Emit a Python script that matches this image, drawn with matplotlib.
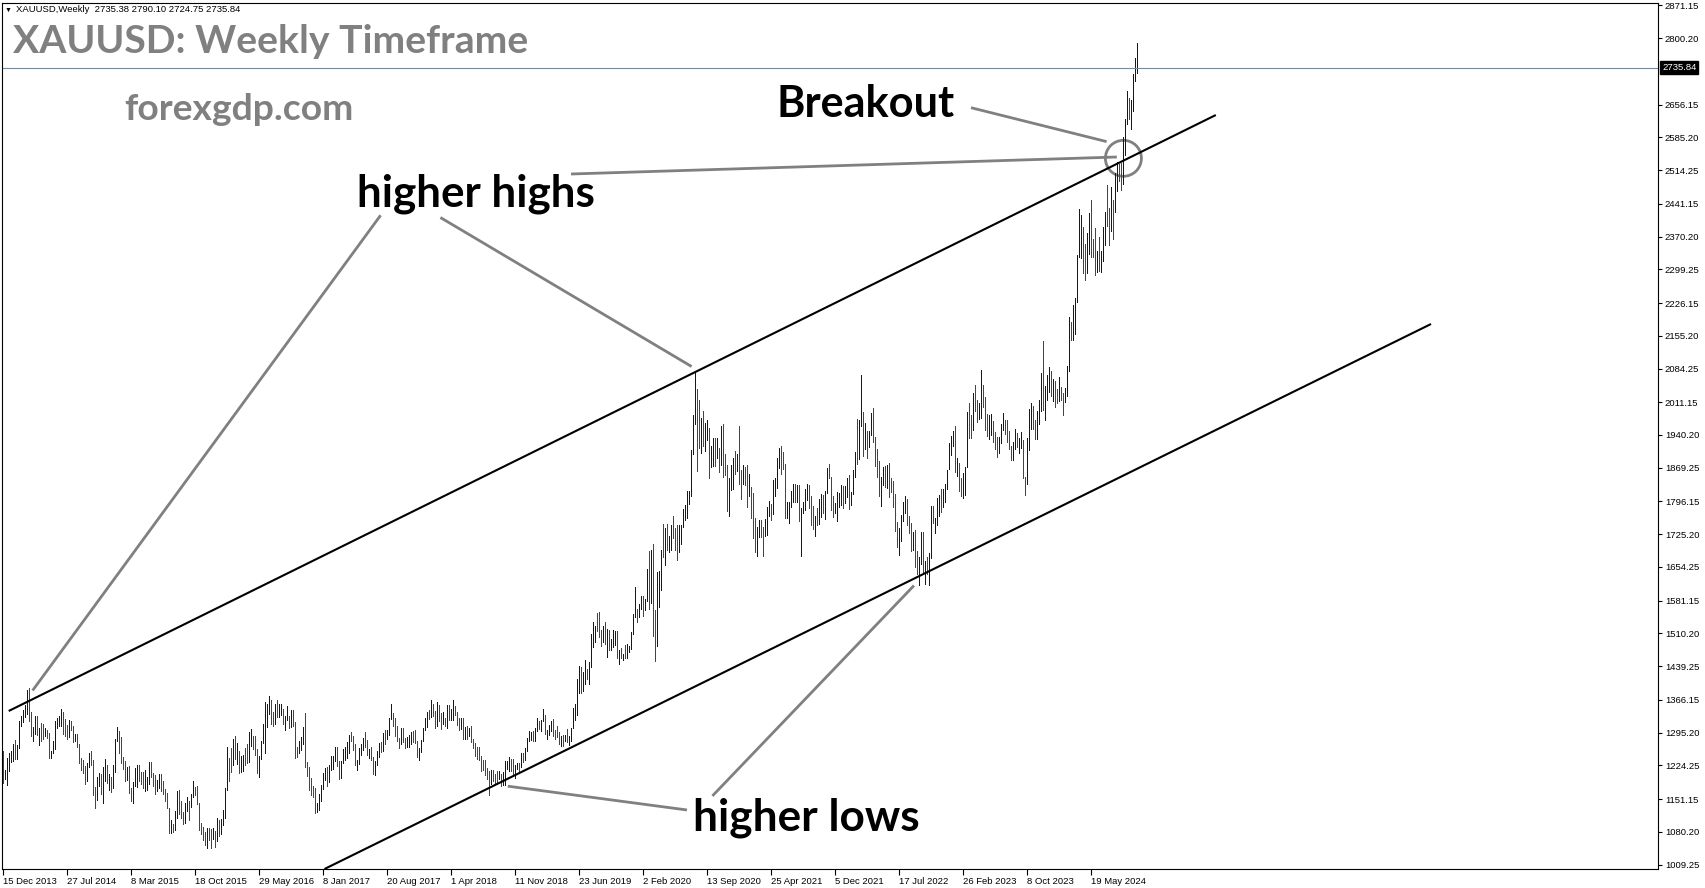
import matplotlib
matplotlib.use("Agg")
import numpy as np
import matplotlib.pyplot as plt
import matplotlib.transforms as mtransforms
from matplotlib.patches import Ellipse

plt.rcParams['font.family'] = ['Liberation Sans', 'DejaVu Sans']

# XAUUSD weekly bars (high, low, close), one per week from 15 Dec 2013
first_open = 1238
bars_2013 = [(1255, 1185, 1203), (1215, 1194, 1212), (1240, 1182, 1237)]
bars_2014 = [
    (1251, 1211, 1247), (1256, 1232, 1254), (1270, 1234, 1264), (1280, 1238, 1240), (1269, 1238, 1262),
    (1320, 1262, 1318), (1332, 1309, 1324), (1345, 1318, 1326), (1355, 1330, 1339), (1388, 1336, 1379),
    (1392, 1321, 1335), (1340, 1287, 1294), (1307, 1277, 1303), (1331, 1293, 1318), (1331, 1290, 1294),
    (1305, 1268, 1303), (1316, 1277, 1302), (1315, 1281, 1292), (1306, 1287, 1293), (1300, 1283, 1292),
    (1295, 1240, 1245), (1256, 1240, 1253), (1278, 1251, 1274), (1321, 1260, 1315), (1326, 1305, 1316),
    (1332, 1310, 1320), (1346, 1310, 1337), (1340, 1292, 1310), (1325, 1288, 1304), (1312, 1282, 1294),
    (1322, 1286, 1310), (1320, 1301, 1306), (1310, 1274, 1280), (1293, 1276, 1287), (1293, 1263, 1268),
    (1270, 1229, 1231), (1240, 1214, 1216), (1236, 1207, 1214), (1222, 1183, 1192), (1229, 1190, 1222),
    (1250, 1220, 1238), (1255, 1226, 1231), (1235, 1161, 1171), (1177, 1132, 1169), (1198, 1150, 1189),
    (1208, 1180, 1196), (1205, 1163, 1175), (1220, 1142, 1192), (1238, 1190, 1222), (1225, 1186, 1195),
    (1205, 1170, 1195), (1200, 1167, 1189)]
bars_2015 = [
    (1224, 1176, 1216), (1282, 1210, 1277), (1307, 1276, 1294), (1298, 1250, 1283), (1285, 1230, 1234),
    (1242, 1216, 1228), (1233, 1191, 1203), (1220, 1193, 1213), (1223, 1164, 1167), (1176, 1147, 1152),
    (1188, 1142, 1184), (1219, 1180, 1199), (1224, 1178, 1218), (1224, 1191, 1206), (1210, 1183, 1203),
    (1210, 1175, 1178), (1214, 1168, 1179), (1200, 1170, 1189), (1232, 1183, 1225), (1232, 1200, 1204),
    (1207, 1180, 1190), (1203, 1162, 1168), (1193, 1169, 1180), (1205, 1175, 1201), (1205, 1168, 1173),
    (1190, 1162, 1168), (1172, 1146, 1159), (1165, 1131, 1133), (1132, 1077, 1085), (1105, 1077, 1095),
    (1097, 1080, 1094), (1126, 1085, 1113), (1168, 1111, 1160), (1170, 1118, 1133), (1147, 1110, 1121),
    (1124, 1098, 1104), (1143, 1099, 1137), (1156, 1125, 1145), (1146, 1105, 1137), (1163, 1135, 1156),
    (1191, 1155, 1176), (1178, 1159, 1163), (1180, 1140, 1142), (1142, 1085, 1088), (1099, 1076, 1080),
    (1091, 1062, 1076), (1080, 1052, 1057), (1088, 1046, 1086), (1089, 1062, 1075), (1086, 1046, 1065),
    (1088, 1065, 1076), (1083, 1047, 1060)]
bars_2016 = [
    (1111, 1061, 1098), (1105, 1071, 1090), (1107, 1076, 1097), (1127, 1095, 1117), (1176, 1111, 1173),
    (1263, 1171, 1239), (1240, 1191, 1231), (1261, 1209, 1221), (1281, 1224, 1270), (1287, 1239, 1249),
    (1272, 1227, 1255), (1256, 1208, 1217), (1244, 1209, 1221), (1246, 1211, 1243), (1262, 1225, 1234),
    (1271, 1230, 1231), (1297, 1232, 1290), (1303, 1266, 1292), (1287, 1260, 1273), (1288, 1247, 1252),
    (1260, 1208, 1213), (1245, 1200, 1243), (1278, 1239, 1274), (1315, 1272, 1297), (1362, 1250, 1322),
    (1357, 1307, 1339), (1375, 1335, 1366), (1366, 1314, 1327), (1339, 1310, 1322), (1357, 1314, 1351),
    (1367, 1330, 1335), (1357, 1330, 1336), (1357, 1333, 1341), (1346, 1314, 1320), (1331, 1301, 1326),
    (1352, 1322, 1328), (1331, 1306, 1310), (1344, 1308, 1338), (1344, 1310, 1316), (1318, 1241, 1257),
    (1263, 1242, 1251), (1276, 1250, 1266), (1285, 1257, 1276), (1307, 1271, 1304), (1337, 1221, 1227),
    (1232, 1202, 1208), (1220, 1171, 1179), (1196, 1160, 1177), (1180, 1156, 1160), (1176, 1122, 1133),
    (1143, 1124, 1133), (1163, 1127, 1151)]
bars_2017 = [
    (1181, 1147, 1173), (1207, 1172, 1196), (1219, 1192, 1209), (1220, 1180, 1190), (1226, 1188, 1220),
    (1245, 1214, 1234), (1245, 1216, 1238), (1264, 1233, 1257), (1264, 1222, 1226), (1233, 1195, 1203),
    (1234, 1197, 1229), (1260, 1229, 1245), (1264, 1236, 1249), (1274, 1241, 1254), (1291, 1251, 1285),
    (1296, 1276, 1284), (1287, 1258, 1268), (1270, 1226, 1228), (1236, 1214, 1228), (1262, 1228, 1253),
    (1270, 1247, 1268), (1283, 1258, 1280), (1296, 1265, 1266), (1280, 1247, 1254), (1260, 1241, 1256),
    (1264, 1236, 1242), (1242, 1205, 1212), (1234, 1204, 1228), (1256, 1224, 1255), (1272, 1242, 1269),
    (1274, 1254, 1258), (1295, 1256, 1290), (1301, 1270, 1285), (1300, 1282, 1291), (1326, 1290, 1325),
    (1357, 1324, 1348), (1338, 1310, 1320), (1327, 1287, 1297), (1310, 1276, 1280), (1284, 1261, 1274),
    (1306, 1271, 1304), (1306, 1275, 1280), (1284, 1262, 1266), (1285, 1264, 1269), (1289, 1265, 1274),
    (1297, 1271, 1294), (1299, 1274, 1288), (1300, 1272, 1279), (1278, 1243, 1248), (1261, 1236, 1256),
    (1279, 1253, 1277), (1306, 1276, 1303)]
bars_2018 = [
    (1326, 1301, 1320), (1340, 1307, 1338), (1345, 1324, 1332), (1366, 1330, 1350), (1357, 1331, 1333),
    (1343, 1306, 1316), (1361, 1310, 1347), (1355, 1321, 1330), (1338, 1303, 1322), (1341, 1315, 1324),
    (1326, 1309, 1313), (1356, 1306, 1347), (1355, 1322, 1325), (1347, 1322, 1332), (1365, 1322, 1346),
    (1354, 1333, 1336), (1339, 1311, 1323), (1326, 1302, 1315), (1326, 1303, 1320), (1326, 1282, 1291),
    (1307, 1282, 1301), (1309, 1281, 1294), (1306, 1287, 1298), (1310, 1275, 1279), (1282, 1261, 1270),
    (1272, 1245, 1252), (1265, 1238, 1242), (1265, 1236, 1241), (1245, 1211, 1231), (1236, 1215, 1223),
    (1236, 1204, 1214), (1219, 1195, 1211), (1211, 1160, 1184), (1214, 1183, 1206), (1215, 1191, 1199),
    (1206, 1187, 1198), (1212, 1189, 1194), (1211, 1194, 1199), (1205, 1180, 1192), (1210, 1182, 1202),
    (1233, 1182, 1222), (1233, 1217, 1227), (1243, 1212, 1233), (1239, 1211, 1232), (1237, 1203, 1209),
    (1225, 1196, 1222), (1230, 1216, 1223), (1230, 1212, 1222), (1250, 1221, 1248), (1251, 1232, 1238),
    (1262, 1236, 1257), (1284, 1256, 1282)]
bars_2019 = [
    (1298, 1276, 1286), (1297, 1279, 1290), (1298, 1276, 1282), (1305, 1276, 1304), (1326, 1299, 1318),
    (1320, 1303, 1314), (1323, 1299, 1322), (1346, 1320, 1328), (1334, 1292, 1293), (1300, 1281, 1298),
    (1311, 1290, 1302), (1320, 1299, 1313), (1324, 1288, 1292), (1300, 1281, 1291), (1310, 1286, 1290),
    (1296, 1271, 1276), (1288, 1266, 1286), (1289, 1267, 1279), (1289, 1277, 1285), (1304, 1275, 1277),
    (1287, 1269, 1284), (1306, 1277, 1305), (1348, 1305, 1341), (1358, 1322, 1341), (1411, 1333, 1399),
    (1439, 1382, 1409), (1438, 1381, 1399), (1426, 1385, 1415), (1452, 1400, 1426), (1434, 1412, 1419),
    (1449, 1400, 1441), (1510, 1437, 1497), (1535, 1480, 1514), (1527, 1491, 1526), (1555, 1515, 1520),
    (1557, 1503, 1506), (1518, 1484, 1488), (1526, 1491, 1516), (1535, 1488, 1497), (1519, 1459, 1504),
    (1517, 1474, 1488), (1498, 1475, 1490), (1518, 1480, 1505), (1516, 1485, 1514), (1515, 1456, 1458),
    (1475, 1445, 1468), (1478, 1456, 1462), (1465, 1452, 1464), (1485, 1458, 1460), (1487, 1458, 1476),
    (1484, 1470, 1479), (1514, 1477, 1510)]
bars_2020 = [
    (1553, 1508, 1552), (1611, 1545, 1562), (1564, 1536, 1557), (1574, 1546, 1571), (1591, 1563, 1589),
    (1591, 1547, 1570), (1584, 1562, 1584), (1649, 1580, 1643), (1689, 1563, 1586), (1692, 1576, 1674),
    (1703, 1504, 1530), (1560, 1451, 1498), (1644, 1483, 1618), (1645, 1568, 1620), (1690, 1605, 1684),
    (1747, 1676, 1683), (1739, 1659, 1728), (1747, 1690, 1701), (1722, 1687, 1702), (1745, 1692, 1743),
    (1765, 1717, 1735), (1739, 1692, 1730), (1745, 1670, 1685), (1745, 1686, 1730), (1746, 1705, 1744),
    (1779, 1741, 1771), (1789, 1757, 1775), (1818, 1760, 1798), (1818, 1791, 1810), (1907, 1808, 1902),
    (1984, 1898, 1975), (2075, 1965, 2035), (2040, 1863, 1944), (2016, 1911, 1940), (1976, 1902, 1964),
    (1992, 1916, 1934), (1966, 1906, 1940), (1973, 1929, 1950), (1955, 1848, 1862), (1917, 1871, 1900),
    (1933, 1873, 1930), (1933, 1873, 1900), (1933, 1890, 1902), (1911, 1860, 1879), (1960, 1875, 1951),
    (1965, 1850, 1889), (1900, 1853, 1871), (1875, 1775, 1788), (1848, 1764, 1839), (1875, 1820, 1839),
    (1890, 1824, 1882), (1906, 1855, 1877)]
bars_2021 = [
    (1900, 1862, 1898), (1959, 1835, 1849), (1864, 1802, 1828), (1876, 1834, 1855), (1871, 1831, 1847),
    (1875, 1785, 1814), (1855, 1807, 1823), (1827, 1760, 1783), (1815, 1717, 1733), (1760, 1687, 1700),
    (1740, 1677, 1727), (1755, 1719, 1744), (1756, 1720, 1732), (1740, 1677, 1728), (1759, 1721, 1744),
    (1784, 1723, 1776), (1798, 1764, 1777), (1790, 1756, 1768), (1843, 1768, 1831), (1846, 1808, 1843),
    (1890, 1825, 1881), (1912, 1869, 1903), (1916, 1855, 1891), (1903, 1867, 1877), (1878, 1761, 1764),
    (1795, 1761, 1781), (1795, 1750, 1783), (1818, 1784, 1808), (1834, 1796, 1812), (1833, 1794, 1801),
    (1832, 1795, 1814), (1832, 1754, 1763), (1782, 1677, 1780), (1795, 1772, 1781), (1823, 1777, 1817),
    (1834, 1800, 1827), (1831, 1782, 1787), (1808, 1745, 1754), (1787, 1737, 1750), (1764, 1721, 1761),
    (1781, 1746, 1757), (1801, 1747, 1767), (1813, 1762, 1796), (1810, 1771, 1783), (1818, 1758, 1818),
    (1869, 1815, 1865), (1877, 1846, 1846), (1849, 1778, 1788), (1808, 1762, 1783), (1793, 1772, 1783),
    (1816, 1753, 1798), (1814, 1785, 1810), (1831, 1789, 1829)]
bars_2022 = [
    (1830, 1783, 1797), (1830, 1792, 1817), (1848, 1805, 1835), (1853, 1780, 1791), (1816, 1788, 1808),
    (1865, 1812, 1859), (1903, 1850, 1898), (1974, 1878, 1889), (1972, 1888, 1966), (2070, 1960, 1988),
    (1990, 1895, 1921), (1966, 1910, 1958), (1949, 1890, 1925), (1949, 1915, 1945), (1988, 1940, 1975),
    (1998, 1925, 1931), (1936, 1872, 1896), (1910, 1850, 1883), (1884, 1807, 1811), (1850, 1786, 1846),
    (1870, 1832, 1853), (1874, 1828, 1851), (1876, 1825, 1871), (1880, 1805, 1840), (1847, 1816, 1827),
    (1841, 1784, 1811), (1813, 1732, 1742), (1752, 1697, 1708), (1739, 1681, 1727), (1767, 1711, 1766),
    (1794, 1754, 1775), (1807, 1771, 1802), (1802, 1745, 1747), (1765, 1727, 1738), (1749, 1688, 1712),
    (1729, 1691, 1716), (1735, 1654, 1675), (1688, 1639, 1644), (1675, 1615, 1661), (1730, 1660, 1695),
    (1730, 1642, 1644), (1668, 1618, 1657), (1675, 1638, 1645), (1684, 1616, 1681), (1787, 1673, 1771),
    (1786, 1749, 1751), (1760, 1727, 1754), (1804, 1745, 1797), (1810, 1765, 1797), (1824, 1773, 1793),
    (1823, 1785, 1798), (1833, 1795, 1824)]
bars_2023 = [
    (1865, 1823, 1865), (1922, 1867, 1920), (1937, 1896, 1926), (1949, 1917, 1928), (1959, 1861, 1865),
    (1890, 1852, 1865), (1880, 1819, 1842), (1846, 1808, 1811), (1858, 1804, 1856), (1870, 1810, 1867),
    (1989, 1870, 1988), (2010, 1934, 1978), (1984, 1934, 1969), (2032, 1950, 2008), (2048, 1992, 2004),
    (2015, 1969, 1983), (2009, 1974, 1990), (2081, 1977, 2017), (2048, 2000, 2011), (2022, 1952, 1977),
    (1985, 1937, 1946), (1983, 1932, 1948), (1985, 1940, 1961), (1971, 1925, 1958), (1947, 1910, 1921),
    (1936, 1893, 1919), (1935, 1902, 1925), (1963, 1922, 1955), (1987, 1952, 1962), (1973, 1942, 1959),
    (1972, 1925, 1943), (1949, 1910, 1914), (1917, 1885, 1889), (1926, 1885, 1914), (1953, 1910, 1940),
    (1945, 1914, 1919), (1933, 1901, 1924), (1947, 1913, 1925), (1929, 1846, 1848), (1850, 1810, 1833),
    (1933, 1834, 1932), (1997, 1908, 1981), (2009, 1954, 2006), (2004, 1954, 1993), (1973, 1932, 1940),
    (1993, 1931, 1980), (2017, 1965, 2002), (2075, 1993, 2072), (2144, 1995, 2005), (2047, 1973, 2019),
    (2071, 2016, 2053), (2088, 2034, 2063)]
bars_2024 = [
    (2078, 2024, 2045), (2062, 2013, 2049), (2058, 2001, 2029), (2040, 2009, 2018), (2065, 2014, 2039),
    (2045, 2015, 2024), (2031, 1984, 2013), (2041, 2011, 2035), (2089, 2024, 2083), (2195, 2078, 2179),
    (2185, 2146, 2155), (2222, 2145, 2165), (2236, 2160, 2232), (2330, 2228, 2329), (2431, 2326, 2344),
    (2417, 2324, 2392), (2392, 2291, 2337), (2354, 2277, 2301), (2378, 2291, 2360), (2422, 2333, 2415),
    (2450, 2325, 2333), (2364, 2325, 2327), (2388, 2287, 2294), (2339, 2293, 2333), (2369, 2295, 2321),
    (2339, 2293, 2326), (2392, 2318, 2392), (2424, 2353, 2411), (2483, 2393, 2400), (2432, 2353, 2387),
    (2477, 2383, 2442), (2450, 2364, 2431), (2509, 2423, 2507), (2531, 2470, 2512), (2528, 2491, 2503),
    (2529, 2472, 2497), (2586, 2485, 2578), (2626, 2547, 2622), (2685, 2614, 2658), (2670, 2625, 2653),
    (2666, 2603, 2656), (2722, 2643, 2721), (2758, 2708, 2735), (2790, 2725, 2736)]

last_price = 2735.84
header = "XAUUSD,Weekly  2735.38 2790.10 2724.75 2735.84"

price_ticks = [2871.15, 2800.20, 2656.15, 2585.20, 2514.25, 2441.15, 2370.20, 2299.25,
               2226.15, 2155.20, 2084.25, 2011.15, 1940.20, 1869.25, 1796.15, 1725.20,
               1654.25, 1581.15, 1510.20, 1439.25, 1366.15, 1295.20, 1224.25, 1151.15,
               1080.20, 1009.25]
date_labels = ["15 Dec 2013", "27 Jul 2014", "8 Mar 2015", "18 Oct 2015", "29 May 2016",
               "8 Jan 2017", "20 Aug 2017", "1 Apr 2018", "11 Nov 2018", "23 Jun 2019",
               "2 Feb 2020", "13 Sep 2020", "25 Apr 2021", "5 Dec 2021", "17 Jul 2022",
               "26 Feb 2023", "8 Oct 2023", "19 May 2024"]
date_step = 32  # bars between date labels

# channel lines: (bar, price) end points
upper_channel = [(2.85, 1342.1), (606.4, 2633.6)]
lower_channel = [(160.75, 999.7), (714.0, 2180.7)]

# annotation pointers (bar, price)
pointers = [
    [(188.8, 2416.3), (14.8, 1386.5)],
    [(218.7, 2411.5), (344.3, 2088.6)],
    [(284.0, 2505.8), (556.9, 2542.6)],
    [(484.0, 2649.5), (551.8, 2576.0)],
    [(252.4, 1179.2), (342.0, 1127.6)],
    [(354.7, 1158.0), (455.5, 1614.0)],
]
circle_center = (560.2, 2539.8)
labels = [("higher highs", 176.9, 2435.1, 238),
          ("Breakout", 386.7, 2628.4, 178),
          ("higher lows", 344.9, 1082.5, 226)]

bars = (bars_2013 + bars_2014 + bars_2015 + bars_2016 + bars_2017 + bars_2018 +
        bars_2019 + bars_2020 + bars_2021 + bars_2022 + bars_2023 + bars_2024)
highs = np.array([b[0] for b in bars], dtype=float)
lows = np.array([b[1] for b in bars], dtype=float)
closes = np.array([b[2] for b in bars], dtype=float)
opens = np.r_[first_open, closes[:-1]]
up = closes >= opens
x = np.arange(len(bars))

W, H = 1705, 888
fig = plt.figure(figsize=(W / 100, H / 100), dpi=100)
ax = fig.add_axes([2 / W, 19 / H, 1656 / W, 866 / H])
ax.set_xlim(-0.5, 827.5)
ax.set_ylim(999.7, 2876.35)

ax.vlines(x[up], lows[up], highs[up], colors='#0000d2', lw=0.5, antialiased=False)
ax.vlines(x[~up], lows[~up], highs[~up], colors='#e80000', lw=0.5, antialiased=False)

for line in (upper_channel, lower_channel):
    xs, ys = zip(*line)
    ax.plot(xs, ys, color='black', lw=1.5, solid_capstyle='butt')

ax.axhline(last_price, color='#778899', lw=0.8)

for p in pointers:
    xs, ys = zip(*p)
    ax.plot(xs, ys, color='#808080', lw=2.0, solid_capstyle='butt')
ax.add_patch(Ellipse(circle_center, width=18, height=78, fill=False,
                     ec='#808080', lw=2.0))

# axes look like the terminal chart
for s in ax.spines.values():
    s.set_color('black')
    s.set_linewidth(0.8)
ax.yaxis.tick_right()
ax.set_yticks(price_ticks)
ax.set_yticklabels([f"{v:.2f}" for v in price_ticks])
ax.set_xticks(np.arange(len(date_labels)) * date_step)
ax.set_xticklabels(date_labels)
ax.tick_params(axis='y', direction='out', length=3, width=0.8, labelsize=6.8, pad=2)
ax.tick_params(axis='x', direction='out', length=4, width=0.8, labelsize=6.8, pad=1.5)
for lbl in ax.get_xticklabels():
    lbl.set_horizontalalignment('left')

blend = mtransforms.blended_transform_factory(ax.transAxes, ax.transData)
ax.annotate(f"{last_price:.2f}", xy=(1.0, last_price), xycoords=blend,
            xytext=(3, 0), textcoords='offset points', ha='left', va='center',
            fontsize=6.8, color='white', annotation_clip=False,
            bbox=dict(boxstyle='square,pad=0.2', fc='black', ec='black'))

# header line
fig.text(5 / W, 1 - 10 / H, "\u25bc", fontsize=5, va='center', ha='left')
fig.text(16 / W, 1 - 10 / H, header, fontsize=6.8, va='center', ha='left')

big = ['Lato', 'DejaVu Sans']


def fit_width(t, width_px):
    r = fig.canvas.get_renderer()
    w = t.get_window_extent(r).width
    t.set_fontsize(t.get_fontsize() * width_px / w)


t = fig.text(13 / W, 1 - 53 / H, "XAUUSD: Weekly Timeframe", fontsize=30,
             family=big, weight='bold', color='#808080', va='baseline')
fit_width(t, 515)
t = fig.text(124 / W, 1 - 120 / H, "forexgdp.com", fontsize=24,
             family=big, weight='bold', color='#808080', va='baseline')
fit_width(t, 229)
for s, bx, py, wpx in labels:
    t = ax.text(bx, py, s, fontsize=30, family=big, weight='bold',
                color='black', va='baseline', ha='left')
    fit_width(t, wpx)

fig.savefig("out.png", dpi=100)
